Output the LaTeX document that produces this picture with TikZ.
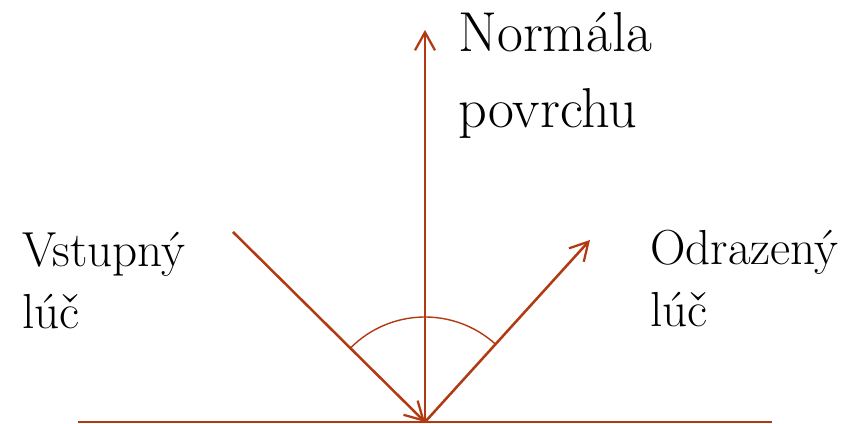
\documentclass[tikz,border=0pt]{standalone}
\usepackage{fontspec}
\usetikzlibrary{arrows.meta}
\definecolor{raycol}{RGB}{178,58,18}
\tikzset{
  ray/.style={draw=raycol, line width=1.8pt,
              -{Straight Barb[length=4.5mm, width=5mm, line width=1.6pt]}},
  surface/.style={draw=raycol, line width=1pt},
  anglearc/.style={draw=raycol, line width=1pt},
  biglbl/.style={align=left, inner sep=0pt, anchor=north west,
                 font=\fontsize{40}{54}\selectfont},
  sidelbl/.style={align=left, inner sep=0pt, anchor=north west,
                  font=\fontsize{35}{44}\selectfont},
}

\begin{document}
\begin{tikzpicture}
    \useasboundingbox (-10.625,-0.05) rectangle (10.525,10.55);
    \coordinate (O) at (0,0);
    \coordinate (basel) at (-8.675,0);
    \coordinate (baser) at (8.675,0);
    \coordinate (nrm) at (0,9.8);
    \coordinate (inc) at (-4.8,4.75);
    \coordinate (refl) at (4.125,4.55);
    \draw[surface] (basel) -- (baser);
    \draw[anglearc] ([shift={(135.3:2.625)}]O) arc[start angle=135.3, end angle=47.8, radius=2.625];
    \draw[ray] (O) -- (nrm);
    \draw[ray] (inc) -- (O);
    \draw[ray] (O) -- (refl);
    \node[biglbl] (lnrm) at (0.825,10.25) {Normála\\povrchu};
    \node[sidelbl] (linc) at (-10.075,4.75) {Vstupný\\lúč};
    \node[sidelbl] (lrefl) at (5.625,4.8) {Odrazený\\lúč};
  \end{tikzpicture}
\end{document}
